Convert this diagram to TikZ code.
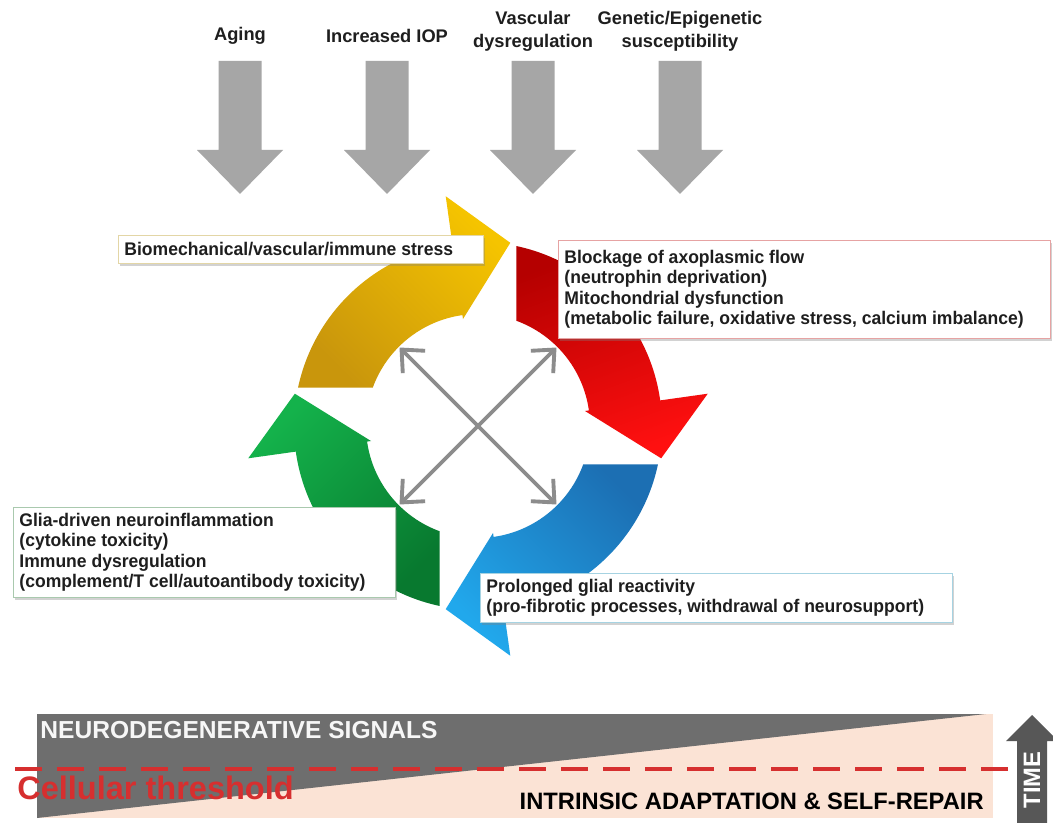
\documentclass[tikz,border=0pt]{standalone}
\usepackage{fontspec}
\setmainfont{Liberation Sans}
\newfontfamily\boxfont{Liberation Sans}[FakeStretch=0.96]
\usetikzlibrary{arrows.meta,shadows}

\begin{document}
\begin{tikzpicture}[
    cause/.style={align=center, text=ink, font=\fontsize{10.4}{13}\selectfont\bfseries},
    cyclebox/.style={fill=white, line width=0.5pt, anchor=north west, align=flush left,
        inner xsep=0.12cm, inner ysep=0.1cm, text=ink,
        font=\boxfont\fontsize{10.4}{11.6}\selectfont\bfseries,
        drop shadow={shadow xshift=0.7pt, shadow yshift=-1.2pt, opacity=0.35}},
    crossarrow/.style={draw=cross_gray, line width=2.2pt,
        {Straight Barb[length=10pt,width=18pt]}-{Straight Barb[length=10pt,width=18pt]}},
    barlabel/.style={inner sep=0pt}
]
    \definecolor{ink}{HTML}{1E1E1E}
    \definecolor{cause_gray}{HTML}{A6A6A6}
    \definecolor{cross_gray}{HTML}{8C8C8C}
    \definecolor{gold_dark}{HTML}{C9960C}
    \definecolor{gold_light}{HTML}{F5C400}
    \definecolor{red_dark}{HTML}{B50000}
    \definecolor{red_light}{HTML}{FF1010}
    \definecolor{blue_dark}{HTML}{1C6FB3}
    \definecolor{blue_light}{HTML}{21A8EC}
    \definecolor{green_dark}{HTML}{08792F}
    \definecolor{green_light}{HTML}{14B24B}
    \definecolor{gold_box}{HTML}{E3D6A6}
    \definecolor{red_box}{HTML}{E6A3A3}
    \definecolor{green_box}{HTML}{A9C9AE}
    \definecolor{blue_box}{HTML}{A6D3E2}
    \definecolor{signal_gray}{HTML}{6E6E6E}
    \definecolor{repair_peach}{HTML}{FBE3D5}
    \definecolor{threshold_red}{HTML}{D62F2F}
    \definecolor{time_gray}{HTML}{575757}
    %\draw[help lines] (0,0) grid (21,16);
    \path[fill=white] (0,0) rectangle (21.06,16.44);
    \useasboundingbox (0,0) rectangle (21.06,16.44);

    % risk factors on top
    \node[cause] (aging) at (4.80,15.72) {Aging};
    \node[cause] (iop) at (7.74,15.72) {Increased IOP};
    \node[cause] (vascular) at (10.66,15.81) {Vascular\\dysregulation};
    \node[cause] (genetic) at (13.60,15.81) {Genetic/Epigenetic\\susceptibility};
    \path[fill=cause_gray] (4.37,15.22) -- (5.23,15.22) -- (5.23,13.44) -- (5.66,13.44) -- (4.80,12.56) -- (3.94,13.44) -- (4.37,13.44) -- cycle;
    \path[fill=cause_gray] (7.31,15.22) -- (8.17,15.22) -- (8.17,13.44) -- (8.60,13.44) -- (7.74,12.56) -- (6.88,13.44) -- (7.31,13.44) -- cycle;
    \path[fill=cause_gray] (10.23,15.22) -- (11.09,15.22) -- (11.09,13.44) -- (11.52,13.44) -- (10.66,12.56) -- (9.80,13.44) -- (10.23,13.44) -- cycle;
    \path[fill=cause_gray] (13.17,15.22) -- (14.03,15.22) -- (14.03,13.44) -- (14.46,13.44) -- (13.60,12.56) -- (12.74,13.44) -- (13.17,13.44) -- cycle;

    % vicious cycle
    \begin{scope}[shift={(9.56,7.92)}]
        \path[top color=red_dark, bottom color=red_light, shading angle=20]
            (70:2.24) arc[start angle=70, end angle=8, radius=2.24] -- (8:2.16) -- (-10:3.72)
            -- (8:4.64) -- (8:3.68) arc[start angle=8, end angle=78, radius=3.68] -- cycle;
        \path[top color=blue_dark, bottom color=blue_light, shading angle=-45]
            (-20:2.24) arc[start angle=-20, end angle=-82, radius=2.24] -- (-82:2.16) -- (-100:3.72)
            -- (-82:4.64) -- (-82:3.68) arc[start angle=-82, end angle=-12, radius=3.68] -- cycle;
        \path[top color=green_dark, bottom color=green_light, shading angle=-135]
            (-110:2.24) arc[start angle=-110, end angle=-172, radius=2.24] -- (-172:2.16) -- (-190:3.72)
            -- (-172:4.64) -- (-172:3.68) arc[start angle=-172, end angle=-102, radius=3.68] -- cycle;
        \path[top color=gold_dark, bottom color=gold_light, shading angle=135]
            (160:2.24) arc[start angle=160, end angle=98, radius=2.24] -- (98:2.16) -- (80:3.72)
            -- (98:4.64) -- (98:3.68) arc[start angle=98, end angle=168, radius=3.68] -- cycle;

        \coordinate (cross ne) at (45:2.22);
        \coordinate (cross nw) at (135:2.22);
        \coordinate (cross sw) at (-135:2.22);
        \coordinate (cross se) at (-45:2.22);
        \draw[crossarrow] (cross sw) -- (cross ne);
        \draw[crossarrow] (cross nw) -- (cross se);
    \end{scope}

    \node[cyclebox, draw=gold_box, text width=7.06cm, minimum height=0.56cm] (stress) at (2.36,11.74)
        {Biomechanical/vascular/immune stress};
    \node[cyclebox, draw=red_box, text width=9.60cm, minimum height=1.96cm] (axonal) at (11.16,11.64)
        {Blockage of axoplasmic flow\\
         (neutrophin deprivation)\\
         Mitochondrial dysfunction\\
         (metabolic failure, oxidative stress, calcium imbalance)};
    \node[cyclebox, draw=blue_box, text width=9.20cm, minimum height=0.98cm] (glial) at (9.60,4.98)
        {Prolonged glial reactivity\\
         (pro-fibrotic processes, withdrawal of neurosupport)};
    \node[cyclebox, draw=green_box, text width=7.40cm, minimum height=1.80cm] (inflammation) at (0.26,6.30)
        {Glia-driven neuroinflammation\\
         (cytokine toxicity)\\
         Immune dysregulation\\
         (complement/T cell/autoantibody toxicity)};

    % signals against repair over time
    \path[fill=repair_peach] (0.74,0.08) rectangle (19.86,2.16);
    \path[fill=signal_gray] (0.74,2.16) -- (19.72,2.16) -- (0.74,0.08) -- cycle;
    \node[barlabel, anchor=west, text=white!94!gray, font=\fontsize{14}{16}\selectfont\bfseries] (signals) at (0.80,1.84)
        {NEURODEGENERATIVE SIGNALS};
    \coordinate (threshold west) at (0.30,1.06);
    \coordinate (threshold east) at (20.20,1.06);
    \draw[threshold_red, line width=2.2pt, dash pattern=on 0.54cm off 0.30cm] (threshold west) -- (threshold east);
    \node[barlabel, anchor=west, text=threshold_red, font=\fontsize{18.5}{20}\selectfont\bfseries] (threshold) at (0.34,0.68)
        {Cellular threshold};
    \node[barlabel, anchor=east, text=black, font=\fontsize{13.5}{15}\selectfont\bfseries] (repair) at (19.68,0.42)
        {INTRINSIC ADAPTATION \& SELF-REPAIR};
    \path[fill=time_gray] (20.34,-0.10) -- (20.34,1.62) -- (20.12,1.62) -- (20.64,2.14) -- (21.16,1.62) -- (20.94,1.62) -- (20.94,-0.10) -- cycle;
    \node[barlabel, rotate=90, text=white, font=\fontsize{13.5}{15}\selectfont\bfseries] (time) at (20.64,0.84) {TIME};
\end{tikzpicture}
\end{document}
